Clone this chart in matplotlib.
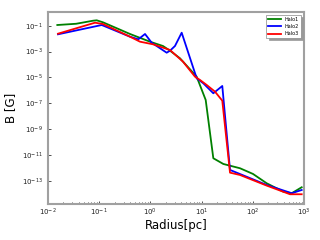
import matplotlib
matplotlib.use("Agg")
import matplotlib.pyplot as plt
from matplotlib.ticker import LogLocator, NullFormatter, NullLocator, FixedLocator
import numpy as np

# log10 radius / log10 B
halo1_logr = [-1.818, -1.45, -1.121, -1.049, -0.926, -0.398, -0.008, 0.246, 0.383, 0.578, 0.904, 1.08, 1.229, 1.424, 1.75, 2.004, 2.271, 2.596, 2.76, 2.955]
halo1_logb = [-0.946, -0.85, -0.614, -0.583, -0.737, -1.641, -2.236, -2.569, -2.932, -3.519, -4.941, -6.742, -11.247, -11.688, -12.02, -12.46, -13.18, -13.83, -13.95, -13.49]

halo2_logr = [-1.805, -0.951, -0.398, -0.236, -0.105, 0.025, 0.318, 0.383, 0.480, 0.611, 0.904, 1.033, 1.229, 1.404, 1.555, 2.271, 2.76, 2.955]
halo2_logb = [-1.665, -0.946, -1.850, -2.051, -1.641, -2.314, -3.087, -2.932, -2.569, -1.541, -5.065, -5.451, -6.224, -5.660, -12.15, -13.31, -13.95, -13.70]

halo3_logr = [-1.805, -1.082, -0.926, -0.398, -0.203, 0.051, 0.383, 0.637, 0.871, 0.969, 1.100, 1.262, 1.404, 1.555, 1.75, 2.271, 2.727, 2.955]
halo3_logb = [-1.618, -0.768, -0.869, -1.850, -2.236, -2.437, -2.878, -3.782, -4.941, -5.196, -5.583, -6.100, -6.796, -12.36, -12.54, -13.36, -14.03, -14.03]

labels = ["Halo1", "Halo2", "Halo3"]
colors = ["g", "b", "r"]
yticks_exp = [-13, -11, -9, -7, -5, -3, -1]

fig = plt.figure(figsize=(3.2, 2.4), dpi=100)
ax = fig.add_axes([48/320, 1 - 203.5/240, 256/320, (203.5 - 11.7)/240])

series = [(halo1_logr, halo1_logb), (halo2_logr, halo2_logb), (halo3_logr, halo3_logb)]
for (lr, lb), lab, c in zip(series, labels, colors):
    ax.plot(10**np.array(lr), 10**np.array(lb), color=c, lw=1.3, label=lab)

ax.set_xscale("log")
ax.set_yscale("log")
ax.set_xlim(1e-2, 1e3)
ax.set_ylim(1.8e-15, 1.21)
ax.yaxis.set_major_locator(FixedLocator([10.0**k for k in yticks_exp]))
ax.yaxis.set_minor_locator(NullLocator())
ax.yaxis.set_minor_formatter(NullFormatter())
ax.xaxis.set_minor_locator(LogLocator(base=10, subs=np.arange(2, 10), numticks=30))
ax.xaxis.set_minor_formatter(NullFormatter())

for s in ax.spines.values():
    s.set_color("#a0a0a0")
    s.set_linewidth(1.5)
ax.tick_params(which="both", direction="in", labelsize=5, colors="#333333", width=0.6)
ax.tick_params(which="major", length=2.5)
ax.tick_params(which="minor", length=1.5)
ax.tick_params(axis="x", pad=2)
ax.tick_params(axis="both", labelcolor="#222222")

ax.set_xlabel("Radius[pc]", fontsize=8.5, labelpad=1)
ax.set_ylabel("B [G]", fontsize=8.5, labelpad=4)

leg = ax.legend(loc="upper right", fontsize=3.5, shadow={"ox": 1.5, "oy": -1.5, "color": "#999999", "alpha": 1.0},
                fancybox=False, handlelength=2.6, borderaxespad=0.6, framealpha=1)
leg.get_frame().set_edgecolor("#888888")
leg.get_frame().set_linewidth(0.5)

fig.savefig("out.png", dpi=100)
